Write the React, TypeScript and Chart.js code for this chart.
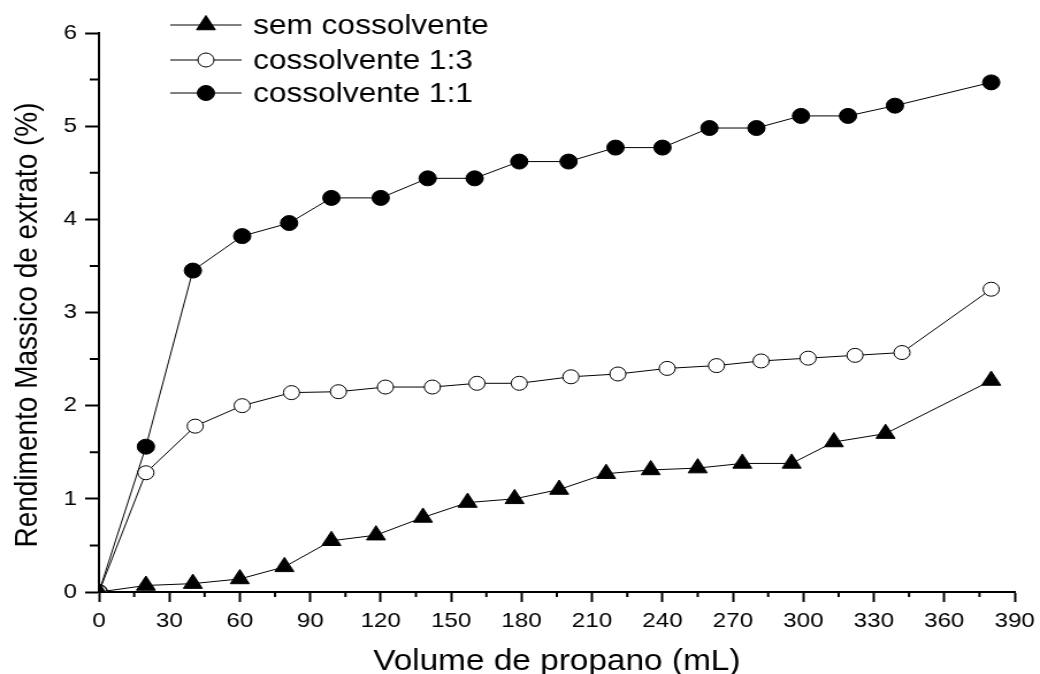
import React, { useEffect, useRef } from 'react';
import { Chart, registerables } from 'chart.js';
import { drawPoint } from 'chart.js/helpers';

Chart.register(...registerables);

// ---- data ----
const seriesLabels = ['sem cossolvente', 'cossolvente 1:3', 'cossolvente 1:1'];

const semX = [0, 20, 40, 60, 79, 99, 118, 138, 157, 177, 196, 216, 235, 255, 274, 295, 313, 335, 380];
const semY = [0, 0.07, 0.09, 0.14, 0.27, 0.55, 0.61, 0.8, 0.96, 1.0, 1.1, 1.27, 1.31, 1.33, 1.38, 1.38, 1.61, 1.7, 2.27];

const c13X = [0, 20, 41, 61, 82, 102, 122, 142, 161, 179, 201, 221, 242, 263, 282, 302, 322, 342, 380];
const c13Y = [0, 1.28, 1.78, 2.0, 2.14, 2.15, 2.2, 2.2, 2.24, 2.24, 2.31, 2.34, 2.4, 2.43, 2.48, 2.51, 2.54, 2.57, 3.25];

const c11X = [0, 20, 40, 61, 81, 99, 120, 140, 160, 179, 200, 220, 240, 260, 280, 299, 319, 339, 380];
const c11Y = [0, 1.56, 3.45, 3.82, 3.96, 4.23, 4.23, 4.44, 4.44, 4.62, 4.62, 4.77, 4.77, 4.98, 4.98, 5.11, 5.11, 5.22, 5.47];

const xTickValues = [0, 30, 60, 90, 120, 150, 180, 210, 240, 270, 300, 330, 360, 390];
const xMinorTicks = [15, 45, 75, 105, 135, 165, 195, 225, 255, 285, 315, 345, 375];
const yTickValues = [0, 1, 2, 3, 4, 5, 6];
const yMinorTicks = [0.5, 1.5, 2.5, 3.5, 4.5, 5.5];

const xTitle = 'Volume de propano (mL)';
const yTitle = 'Rendimento Massico de extrato (%)';

// ---- layout ----
const CSS_W = 1040;
const CSS_H = 674;
const W = 904; // internal width, stretched horizontally to CSS_W like the reference
const H = 674;
const FONT = '"Liberation Sans", Arial, Helvetica, sans-serif';

const toPts = (xs: number[], ys: number[]) => xs.map((x, i) => ({ x, y: ys[i] }));

const minorTicksPlugin = {
  id: 'minorTicks',
  afterDraw(chart: any) {
    const ctx = chart.ctx;
    const xs = chart.scales.x;
    const ys = chart.scales.y;
    ctx.save();
    ctx.strokeStyle = '#000';
    ctx.lineWidth = 2;
    ctx.beginPath();
    for (const v of xMinorTicks) {
      const px = xs.getPixelForValue(v);
      ctx.moveTo(px, xs.top);
      ctx.lineTo(px, xs.top + 5);
    }
    for (const v of yMinorTicks) {
      const py = ys.getPixelForValue(v);
      ctx.moveTo(ys.right, py);
      ctx.lineTo(ys.right - 8, py);
    }
    ctx.stroke();
    ctx.restore();
  },
};

const titlesPlugin = {
  id: 'axisTitles',
  afterDraw(chart: any) {
    const ctx = chart.ctx;
    const area = chart.chartArea;
    ctx.save();
    ctx.fillStyle = '#000';
    ctx.textAlign = 'center';
    ctx.textBaseline = 'alphabetic';
    ctx.font = `29px ${FONT}`;
    ctx.fillText(xTitle, (area.left + area.right) / 2, 670);
    ctx.font = `28px ${FONT}`;
    ctx.translate(32, 325);
    ctx.rotate(-Math.PI / 2);
    ctx.fillText(yTitle, 0, 0);
    ctx.restore();
  },
};

const legendPlugin = {
  id: 'inlineLegend',
  afterDraw(chart: any) {
    const ctx = chart.ctx;
    const rows = [25, 60, 93];
    ctx.save();
    chart.data.datasets.forEach((ds: any, i: number) => {
      const y = rows[i];
      ctx.strokeStyle = '#000';
      ctx.lineWidth = 1;
      ctx.beginPath();
      ctx.moveTo(148, y);
      ctx.lineTo(210, y);
      ctx.stroke();
      ctx.fillStyle = ds.pointBackgroundColor;
      ctx.strokeStyle = ds.pointBorderColor;
      ctx.lineWidth = ds.pointBorderWidth;
      drawPoint(ctx, { pointStyle: ds.pointStyle, radius: ds.pointRadius, borderWidth: ds.pointBorderWidth, rotation: 0 } as any, 179, y);
      ctx.fillStyle = '#000';
      ctx.font = `27.5px ${FONT}`;
      ctx.textAlign = 'left';
      ctx.textBaseline = 'alphabetic';
      ctx.fillText(ds.label, 220, y + 9);
    });
    ctx.restore();
  },
};

export default function App() {
  const ref = useRef<HTMLCanvasElement | null>(null);

  useEffect(() => {
    if (!ref.current) return;
    const common = {
      showLine: true,
      borderColor: '#000',
      borderWidth: 1,
      pointBorderColor: '#000',
      pointBorderWidth: 1,
      pointHoverRadius: 0,
      tension: 0,
    };
    const chart = new Chart(ref.current, {
      type: 'scatter',
      data: {
        datasets: [
          {
            ...common,
            label: seriesLabels[0],
            data: toPts(semX, semY),
            pointStyle: 'triangle',
            pointRadius: 9.5,
            pointBackgroundColor: '#000',
          },
          {
            ...common,
            label: seriesLabels[1],
            data: toPts(c13X, c13Y),
            pointStyle: 'circle',
            pointRadius: 7,
            pointBackgroundColor: '#fff',
          },
          {
            ...common,
            label: seriesLabels[2],
            data: toPts(c11X, c11Y),
            pointStyle: 'circle',
            pointRadius: 7.5,
            pointBackgroundColor: '#000',
          },
        ],
      },
      options: {
        responsive: false,
        devicePixelRatio: 1,
        animation: false,
        layout: { padding: { top: 33, right: 22, bottom: 0, left: 0 } },
        plugins: {
          legend: { display: false },
          tooltip: { enabled: false },
          title: { display: false },
        },
        scales: {
          x: {
            type: 'linear',
            min: 0,
            max: 390,
            afterBuildTicks: (s: any) => {
              s.ticks = xTickValues.map((v) => ({ value: v }));
            },
            afterFit: (s: any) => {
              s.height = 82;
              s.paddingLeft = 0;
              s.paddingRight = 0;
            },
            ticks: {
              color: '#000',
              font: { family: FONT, size: 21 },
              padding: 7,
              maxRotation: 0,
              autoSkip: false,
            },
            grid: {
              display: true,
              drawOnChartArea: false,
              drawTicks: true,
              tickLength: 10,
              tickWidth: 2,
              tickColor: '#000',
            },
            border: { display: true, color: '#000', width: 2 },
            title: { display: false },
          },
          y: {
            type: 'linear',
            min: 0,
            max: 6,
            afterBuildTicks: (s: any) => {
              s.ticks = yTickValues.map((v) => ({ value: v }));
            },
            afterFit: (s: any) => {
              s.width = 86;
              s.paddingTop = 0;
              s.paddingBottom = 0;
            },
            ticks: {
              color: '#000',
              font: { family: FONT, size: 21 },
              padding: 7,
              autoSkip: false,
            },
            grid: {
              display: true,
              drawOnChartArea: false,
              drawTicks: true,
              tickLength: 12,
              tickWidth: 2,
              tickColor: '#000',
            },
            border: { display: true, color: '#000', width: 2 },
            title: { display: false },
          },
        },
      },
      plugins: [minorTicksPlugin, titlesPlugin, legendPlugin],
    } as any);
    return () => chart.destroy();
  }, []);

  return (
    <div style={{ position: 'fixed', left: 0, top: 0, width: CSS_W, height: CSS_H, background: '#fff' }}>
      <canvas
        ref={ref}
        width={W}
        height={H}
        style={{ width: `${CSS_W}px`, height: `${CSS_H}px`, display: 'block' }}
      />
    </div>
  );
}
